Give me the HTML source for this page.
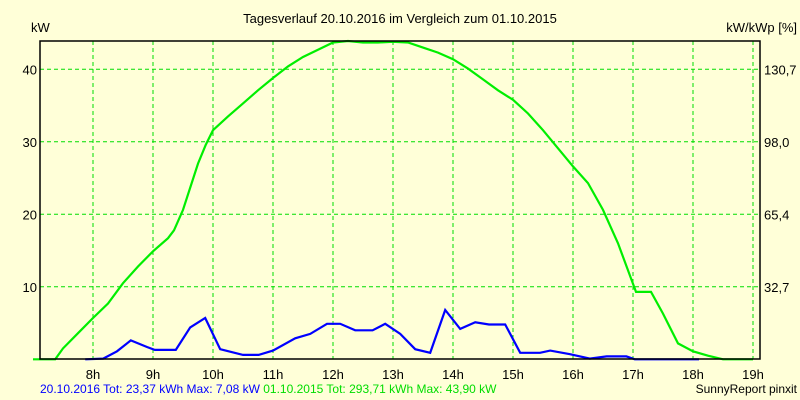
<!DOCTYPE html>
<html><head><meta charset="utf-8"><style>
body{margin:0;background:#ffffd8;}
svg{display:block;font-family:"Liberation Sans",sans-serif;}
</style></head><body>
<svg id="chart" width="800" height="400">
<rect x="0" y="0" width="800" height="400" fill="#ffffd8"/>
<text x="400" y="23" text-anchor="middle" font-size="13">Tagesverlauf 20.10.2016 im Vergleich zum 01.10.2015</text>
<text x="31" y="32" font-size="13">kW</text>
<text x="797" y="32" text-anchor="end" font-size="13">kW/kWp [%]</text>
<g id="grid"></g>
<g id="series"></g>
<rect x="40" y="41" width="720" height="318" fill="none" stroke="#000" stroke-width="1.5"/>
<g id="labels"></g>
<text x="40" y="393" font-size="12" fill="#0000ff">20.10.2016 Tot: 23,37 kWh Max: 7,08 kW <tspan fill="#00dd00">01.10.2015 Tot: 293,71 kWh Max: 43,90 kW</tspan></text>
<text x="797" y="393" text-anchor="end" font-size="12">SunnyReport pinxit</text>
</svg>
<script>
const hourTicks = [8,9,10,11,12,13,14,15,16,17,18,19];
const yTicks = [10,20,30,40];
const yTickLabels = ["10","20","30","40"];
const rightTickLabels = ["32,7","65,4","98,0","130,7"];
const greenTimes = [7.0,7.37,7.5,7.75,8.0,8.25,8.5,8.75,9.0,9.25,9.35,9.5,9.75,9.88,10.0,10.25,10.5,10.75,11.0,11.25,11.5,11.75,12.0,12.25,12.5,12.75,13.0,13.25,13.5,13.75,14.0,14.25,14.5,14.75,15.0,15.25,15.5,15.75,16.0,16.25,16.5,16.75,17.05,17.3,17.5,17.75,18.0,18.25,18.5,19.0];
const greenValues = [0,0,1.5,3.6,5.7,7.7,10.5,12.8,14.9,16.7,17.8,20.6,27.0,29.6,31.6,33.5,35.3,37.1,38.8,40.4,41.7,42.7,43.7,43.9,43.7,43.7,43.8,43.7,43.0,42.3,41.4,40.1,38.6,37.1,35.8,33.9,31.6,29.1,26.6,24.3,20.6,16.0,9.3,9.3,6.3,2.2,1.1,0.5,0,0];
const blueTimes = [7.87,8.17,8.4,8.63,8.9,9.03,9.38,9.62,9.87,10.12,10.5,10.76,11.0,11.37,11.62,11.9,12.12,12.37,12.66,12.87,13.12,13.37,13.62,13.87,14.12,14.37,14.6,14.87,15.12,15.45,15.62,15.95,16.28,16.56,16.89,17.03,18.1];
const blueValues = [0,0.1,1.1,2.6,1.7,1.3,1.3,4.4,5.7,1.4,0.6,0.6,1.2,2.9,3.5,4.9,4.9,4.0,4.0,4.9,3.5,1.4,0.9,6.8,4.2,5.1,4.8,4.8,0.9,0.9,1.2,0.7,0.1,0.4,0.4,0,0];
const NS="http://www.w3.org/2000/svg";
function xs(h){return 93+(h-8)*60;}
function ys(v){return 359.3-v*7.25;}
const grid=document.getElementById('grid'), labels=document.getElementById('labels'), series=document.getElementById('series');
hourTicks.forEach((h,i)=>{
  const l=document.createElementNS(NS,'line');
  l.setAttribute('x1',xs(h));l.setAttribute('x2',xs(h));l.setAttribute('y1',41);l.setAttribute('y2',359);
  l.setAttribute('stroke','#00dd00');l.setAttribute('stroke-dasharray','4,3');
  
  
  grid.appendChild(l);
  const t=document.createElementNS(NS,'text');
  t.setAttribute('x',xs(h));t.setAttribute('y',379);t.setAttribute('text-anchor','middle');t.setAttribute('font-size','13');
  t.textContent=h+'h';
  
  
  labels.appendChild(t);
});
yTicks.forEach((v,i)=>{
  const l=document.createElementNS(NS,'line');
  l.setAttribute('x1',40);l.setAttribute('x2',760);l.setAttribute('y1',ys(v));l.setAttribute('y2',ys(v));
  l.setAttribute('stroke','#00dd00');l.setAttribute('stroke-dasharray','4,3');
  
  
  grid.appendChild(l);
  const t=document.createElementNS(NS,'text');
  t.setAttribute('x',37);t.setAttribute('y',ys(v)+5);t.setAttribute('text-anchor','end');t.setAttribute('font-size','13');
  t.textContent=yTickLabels[i];
  
  
  labels.appendChild(t);
  const r=document.createElementNS(NS,'text');
  r.setAttribute('x',764);r.setAttribute('y',ys(v)+5);r.setAttribute('font-size','13');
  r.textContent=rightTickLabels[i];
  
  
  labels.appendChild(r);
});
function line(times,vals,color,name){
  const p=document.createElementNS(NS,'polyline');
  p.setAttribute('points',times.map((t,i)=>xs(t).toFixed(1)+','+ys(vals[i]).toFixed(1)).join(' '));
  p.setAttribute('fill','none');p.setAttribute('stroke',color);p.setAttribute('stroke-width','2.2');
  
  
  series.appendChild(p);
}
line(greenTimes,greenValues,'#00ee00','series-2015-line');
line(blueTimes,blueValues,'#0000ff','series-2016-line');
</script>
</body></html>
